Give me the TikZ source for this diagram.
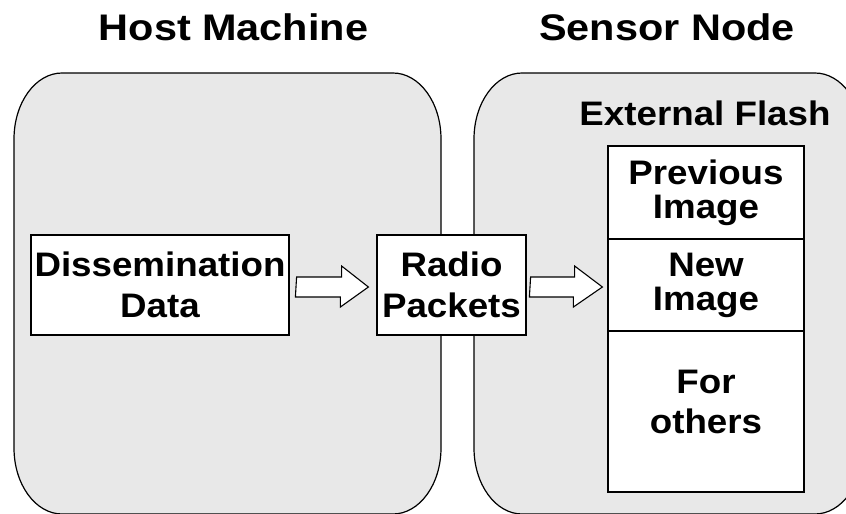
\documentclass[tikz,border=0pt]{standalone}
\usepackage{fontspec}
\usetikzlibrary{calc}
\newfontfamily\lab[FakeStretch=1.08]{Liberation Sans}
\newfontfamily\ttl[FakeStretch=1.12]{Liberation Sans}
\definecolor{panelgray}{RGB}{232,232,232}
\tikzset{
  panel/.style={draw=black, line width=1.2pt, fill=panelgray},
  box/.style={draw=black, line width=1.2pt, fill=white, inner sep=0pt, align=center,
    font=\lab\bfseries\fontsize{34}{41}\selectfont},
  cell/.style={draw=black, line width=1.2pt, fill=white, inner sep=0pt, align=center,
    minimum width=196pt, font=\lab\bfseries\fontsize{34}{34}\selectfont},
  lbl/.style={inner sep=0pt, align=center, font=\lab\bfseries\fontsize{34}{40}\selectfont},
  title/.style={inner sep=0pt, anchor=base, font=\ttl\bfseries\fontsize{37}{44}\selectfont},
  blk/.style={draw=black, line width=1.1pt, fill=white, line join=miter}
}
\begin{document}
\begin{tikzpicture}[x=1pt,y=-1pt]
\useasboundingbox (0,0) rectangle (846,514);
\fill[white] (0,0) rectangle (846,514);
\begin{scope}
\clip (0,0) rectangle (846,514);
% host machine panel
\draw[panel] (14,139) .. controls (14,102.6) and (35.5,73) .. (62,73) -- (393,73)
  .. controls (419.5,73) and (441,102.6) .. (441,139) -- (441,448)
  .. controls (441,484.4) and (419.5,514) .. (393,514) -- (62,514)
  .. controls (35.5,514) and (14,484.4) .. (14,448) -- cycle;
% sensor node panel
\draw[panel] (474,139) .. controls (474,102.6) and (495.5,73) .. (522,73) -- (815,73)
  .. controls (841.5,73) and (863,102.6) .. (863,139) -- (863,448)
  .. controls (863,484.4) and (841.5,514) .. (815,514) -- (522,514)
  .. controls (495.5,514) and (474,484.4) .. (474,448) -- cycle;
\end{scope}

\node[title] (host) at (233.5,40) {Host Machine};
\node[title] (sensor) at (667,40) {Sensor Node};
\node[lbl, anchor=base] (flash) at (705,125) {External Flash};

\node[box, minimum width=258pt, minimum height=100pt] (diss) at (160,285) {Dissemination\\Data};
\node[box, minimum width=149pt, minimum height=100pt] (radio) at (451.5,285) {Radio\\Packets};

\node[cell, minimum height=93pt] (prev) at (706,192.5) {Previous\\Image};
\node[cell, minimum height=92pt] (new) at (706,285) {New\\Image};
\node[cell, minimum height=161pt] (other) at (706,411.5) {};
\node[lbl] (othertext) at (706,402) {For\\others};

% block arrows
\draw[blk] ($(diss.east)+(7,-8)$) -- ++(45,0) -- ++(0,-11)
  -- ($(radio.west)+(-8,2)$) -- ++(-28,20) -- ++(0,-10) -- ++(-45,0) -- cycle;
\draw[blk] ($(radio.east)+(4,-8)$) -- ++(44,0) -- ++(0,-11)
  -- ($(new.west)+(-5,2)$) -- ++(-29,20) -- ++(0,-10) -- ++(-44,0) -- cycle;
\end{tikzpicture}
\end{document}
